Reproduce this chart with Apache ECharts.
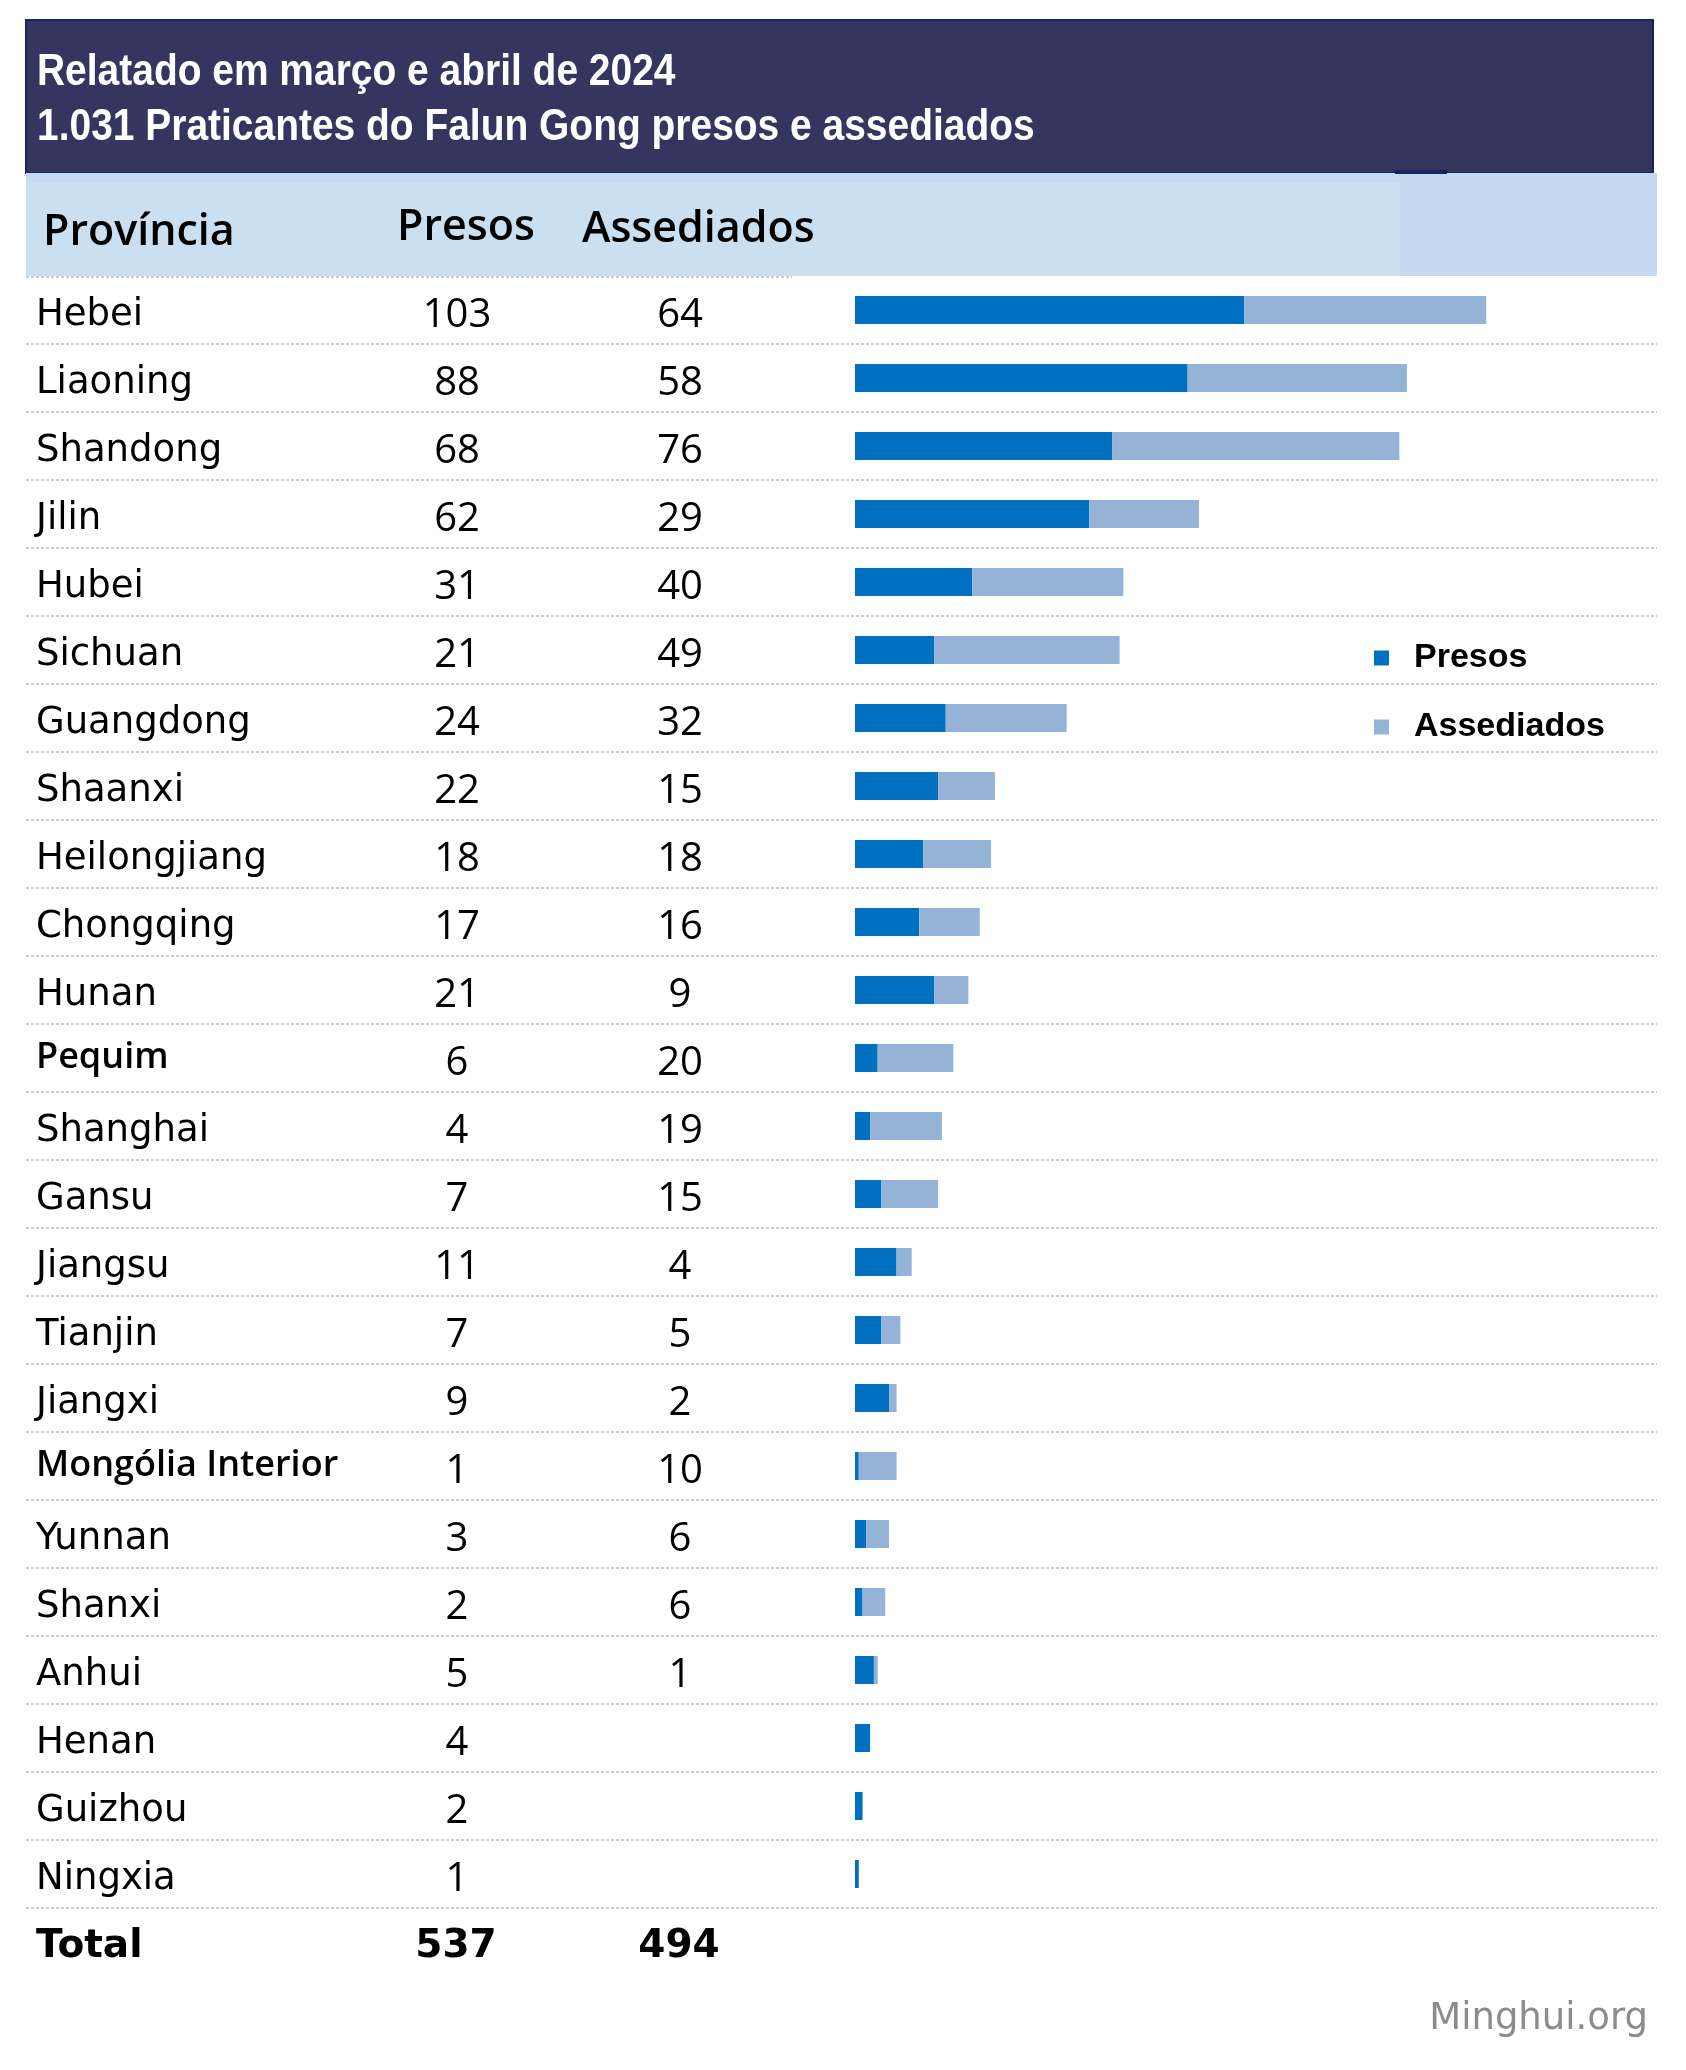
<!DOCTYPE html>
<html>
<head>
<meta charset="utf-8">
<script src="https://cdn.jsdelivr.net/npm/echarts@6/dist/echarts.min.js"></script>
<style>
html, body { margin: 0; padding: 0; background: #ffffff; }
#chart { width: 1686px; height: 2070px; }
</style>
</head>
<body>
<div id="chart"></div>
<script>
// ---- data ----
const titleLines = ['Relatado em março e abril de 2024', '1.031 Praticantes do Falun Gong presos e assediados'];
const headerLabels = ['Província', 'Presos', 'Assediados'];
const provinces = ['Hebei', 'Liaoning', 'Shandong', 'Jilin', 'Hubei', 'Sichuan', 'Guangdong', 'Shaanxi',
  'Heilongjiang', 'Chongqing', 'Hunan', 'Pequim', 'Shanghai', 'Gansu', 'Jiangsu', 'Tianjin', 'Jiangxi',
  'Mongólia Interior', 'Yunnan', 'Shanxi', 'Anhui', 'Henan', 'Guizhou', 'Ningxia'];
const presos = [103, 88, 68, 62, 31, 21, 24, 22, 18, 17, 21, 6, 4, 7, 11, 7, 9, 1, 3, 2, 5, 4, 2, 1];
const assediados = [64, 58, 76, 29, 40, 49, 32, 15, 18, 16, 9, 20, 19, 15, 4, 5, 2, 10, 6, 6, 1, null, null, null];
const boldProvinces = ['Pequim', 'Mongólia Interior'];
const seriesNames = ['Presos', 'Assediados'];
const totalLabel = 'Total';
const watermark = 'Minghui.org';

const sum = arr => arr.reduce((s, v) => s + (v || 0), 0);
const totalPresos = sum(presos);
const totalAssediados = sum(assediados);

const chart = echarts.init(document.getElementById('chart'), null, { renderer: 'canvas', width: 1686, height: 2070 });

const sepStyle = { color: '#BDBDBD', width: 1.5, type: [3, 2] };
const titleFont = 'bold 44px "Liberation Sans", Arial, sans-serif';
const headFont = '600 43px "Open Sans", sans-serif';
const totalFont = 'bold 39px "DejaVu Sans", sans-serif';

const option = {
  backgroundColor: '#ffffff',
  animation: false,
  legend: {
    orient: 'vertical',
    left: 1374,
    top: 641,
    padding: 0,
    itemWidth: 15,
    itemHeight: 15,
    itemGap: 35,
    icon: 'rect',
    data: seriesNames,
    textStyle: {
      fontFamily: 'Liberation Sans',
      fontWeight: 'bold',
      fontSize: 34,
      lineHeight: 34,
      color: '#000000',
      padding: [0, 0, 0, 20]
    }
  },
  grid: [
    { left: 855, right: 75, top: 276, height: 68 * provinces.length, outerBoundsMode: 'none', containLabel: false },
    { left: 26, right: 29, top: 344, height: 68 * (provinces.length - 1), outerBoundsMode: 'none', containLabel: false }
  ],
  xAxis: [
    { type: 'value', gridIndex: 0, min: 0, max: 200, show: false },
    { type: 'value', gridIndex: 1, min: 0, max: 1, show: false }
  ],
  yAxis: [
    {
      type: 'category',
      gridIndex: 0,
      inverse: true,
      data: provinces,
      axisLine: { show: false },
      axisTick: { show: false },
      splitLine: { show: false },
      axisLabel: {
        interval: 0,
        align: 'left',
        margin: 855 - 36,
        padding: [11, 0, 0, 0],
        formatter: function (value, index) {
          const nameTok = boldProvinces.indexOf(value) >= 0 ? 'b' : 'n';
          const a = assediados[index] == null ? '' : assediados[index];
          return '{' + nameTok + '|' + value + '}{p|' + presos[index] + '}{a|' + a + '}';
        },
        rich: {
          n: { width: 341, fontFamily: 'DejaVu Sans', fontSize: 37, color: '#000000' },
          b: { width: 341, fontFamily: 'Open Sans', fontWeight: 600, fontSize: 36, color: '#000000', padding: [0, 0, 12, 0] },
          p: { width: 160, align: 'center', fontFamily: 'Open Sans', fontSize: 40, color: '#000000' },
          a: { width: 286, align: 'center', fontFamily: 'Open Sans', fontSize: 40, color: '#000000' }
        }
      }
    },
    {
      type: 'value',
      gridIndex: 1,
      min: 0,
      max: provinces.length - 1,
      interval: 1,
      axisLine: { show: false },
      axisTick: { show: false },
      axisLabel: { show: false },
      splitLine: { show: true, lineStyle: sepStyle }
    }
  ],
  series: [
    {
      name: seriesNames[0],
      type: 'bar',
      stack: 'total',
      xAxisIndex: 0,
      yAxisIndex: 0,
      barWidth: 28,
      itemStyle: { color: '#0070C0' },
      data: presos
    },
    {
      name: seriesNames[1],
      type: 'bar',
      stack: 'total',
      xAxisIndex: 0,
      yAxisIndex: 0,
      barWidth: 28,
      itemStyle: { color: '#95B3D7' },
      data: assediados
    }
  ],
  graphic: [
    // title box
    { type: 'rect', z: 1, shape: { x: 26, y: 20, width: 1627, height: 153 }, style: { fill: '#34365F', stroke: '#14285E', lineWidth: 2 } },
    { type: 'text', z: 5, x: 37, y: 73, scaleX: 0.885, style: { text: titleLines[0], fill: '#ffffff', font: titleFont, textAlign: 'left', textVerticalAlign: 'middle' } },
    { type: 'text', z: 5, x: 37, y: 128, scaleX: 0.885, style: { text: titleLines[1], fill: '#ffffff', font: titleFont, textAlign: 'left', textVerticalAlign: 'middle' } },
    // header band
    { type: 'rect', z: 1, shape: { x: 26, y: 173, width: 1631, height: 103 }, style: { fill: '#C5D9F0' } },
    { type: 'rect', z: 2, shape: { x: 26, y: 183, width: 1374, height: 93 }, style: { fill: '#CADFF0' } },
    { type: 'rect', z: 3, shape: { x: 1395, y: 170, width: 52, height: 4 }, style: { fill: '#14285E' } },
    { type: 'line', z: 3, shape: { x1: 26, y1: 277, x2: 792, y2: 277 }, style: { stroke: sepStyle.color, lineWidth: sepStyle.width, lineDash: sepStyle.type } },
    { type: 'text', z: 5, x: 43, y: 233, style: { text: headerLabels[0], fill: '#000000', font: headFont, textAlign: 'left', textVerticalAlign: 'middle' } },
    { type: 'text', z: 5, x: 397, y: 228, style: { text: headerLabels[1], fill: '#000000', font: headFont, textAlign: 'left', textVerticalAlign: 'middle' } },
    { type: 'text', z: 5, x: 582, y: 230, style: { text: headerLabels[2], fill: '#000000', font: headFont, textAlign: 'left', textVerticalAlign: 'middle' } },
    // total row
    { type: 'text', z: 5, x: 36, y: 1947, style: { text: totalLabel, fill: '#000000', font: totalFont, textAlign: 'left', textVerticalAlign: 'middle' } },
    { type: 'text', z: 5, x: 456, y: 1947, style: { text: String(totalPresos), fill: '#000000', font: totalFont, textAlign: 'center', textVerticalAlign: 'middle' } },
    { type: 'text', z: 5, x: 679, y: 1947, style: { text: String(totalAssediados), fill: '#000000', font: totalFont, textAlign: 'center', textVerticalAlign: 'middle' } },
    // watermark
    { type: 'text', z: 5, x: 1648, y: 2019, style: { text: watermark, fill: '#8C8C8C', font: '37px "DejaVu Sans", sans-serif', textAlign: 'right', textVerticalAlign: 'middle' } }
  ]
};

chart.setOption(option);
</script>
</body>
</html>
